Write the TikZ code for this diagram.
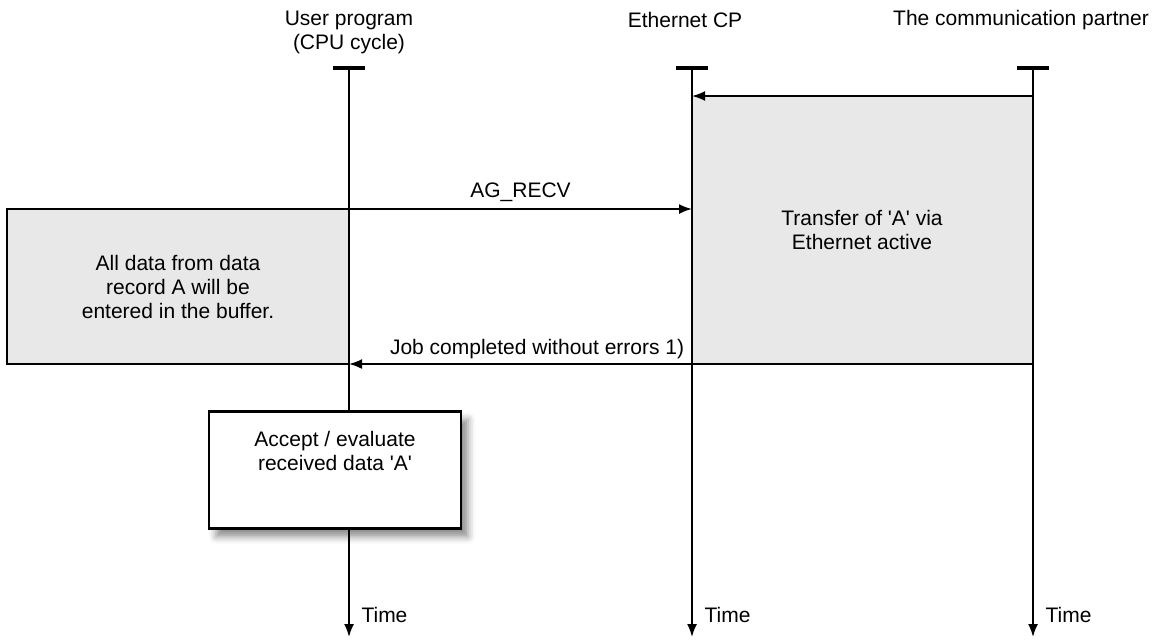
\documentclass[tikz,border=0pt]{standalone}
\usepackage{fontspec}
\setmainfont{Liberation Sans}
\usetikzlibrary{arrows.meta,positioning,shadows.blur}

\def\q{\textquotesingle}

\begin{document}
\begin{tikzpicture}[x=1pt,y=-1pt,
  every node/.style={font=\fontsize{21}{24}\selectfont,align=center},
  life/.style={line width=1.8pt,-{Latex[length=13pt,width=10pt]}},
  msg/.style={line width=1.8pt,-{Latex[length=13pt,width=10pt]}},
  headbar/.style={line width=4.5pt},
  busy/.style={fill=black!9},
  task/.style={draw,line width=2.4pt,fill=white,minimum width=252pt,minimum height=117pt,
    blur shadow={shadow xshift=7pt,shadow yshift=-8pt,shadow blur radius=7pt,shadow opacity=45}}]
  \useasboundingbox (0,0) rectangle (1155,640);

  \foreach \name/\x in {prog/349,cp/692,part/1033} {
    \coordinate (\name-top) at (\x,68);
    \coordinate (\name-end) at (\x,637);
  }
  \coordinate (part-send) at (1033,96);
  \coordinate (cp-recv) at (692,96);
  \coordinate (prog-call) at (349,209);
  \coordinate (cp-call) at (692,209);
  \coordinate (part-done) at (1033,364);
  \coordinate (prog-done) at (349,364);
  \coordinate (buf-nw) at (7,209);

  % busy phases
  \fill[busy] (cp-recv) rectangle (part-done);
  \filldraw[busy,draw=black,line width=1.8pt] (buf-nw) rectangle (prog-done);
  \node (transfer) at (862,230) {Transfer of \q A\q{} via\\Ethernet active};
  \node (buffer) at (178,287) {All data from data\\record A will be\\entered in the buffer.};

  % headers
  \node (prog-head) at (349,32) {User program\\(CPU cycle)};
  \node (cp-head) at (685,20) {Ethernet CP};
  \node (part-head) at (1021,20) {The communication partner};

  % lifelines
  \foreach \name in {prog,cp,part} {
    \draw[life] (\name-top) -- (\name-end);
    \draw[headbar] ([xshift=-16pt]\name-top) -- ([xshift=16pt]\name-top);
    \node[anchor=west] (\name-time) at ([xshift=9pt,yshift=22pt]\name-end) {Time};
  }

  % messages
  \draw[msg] (part-send) -- (cp-recv);
  \draw[msg] (prog-call) -- node[above=3pt] (recv-label) {AG\_RECV} (cp-call);
  \draw[msg] (part-done) -- node[above=1pt,pos=0.725] (done-label) {Job completed without errors 1)} (prog-done);

  % evaluation
  \node[task] (accept) at (335,470) {};
  \node[below=17pt of accept.north] (accept-text) {Accept / evaluate\\received data \q A\q};
\end{tikzpicture}
\end{document}
